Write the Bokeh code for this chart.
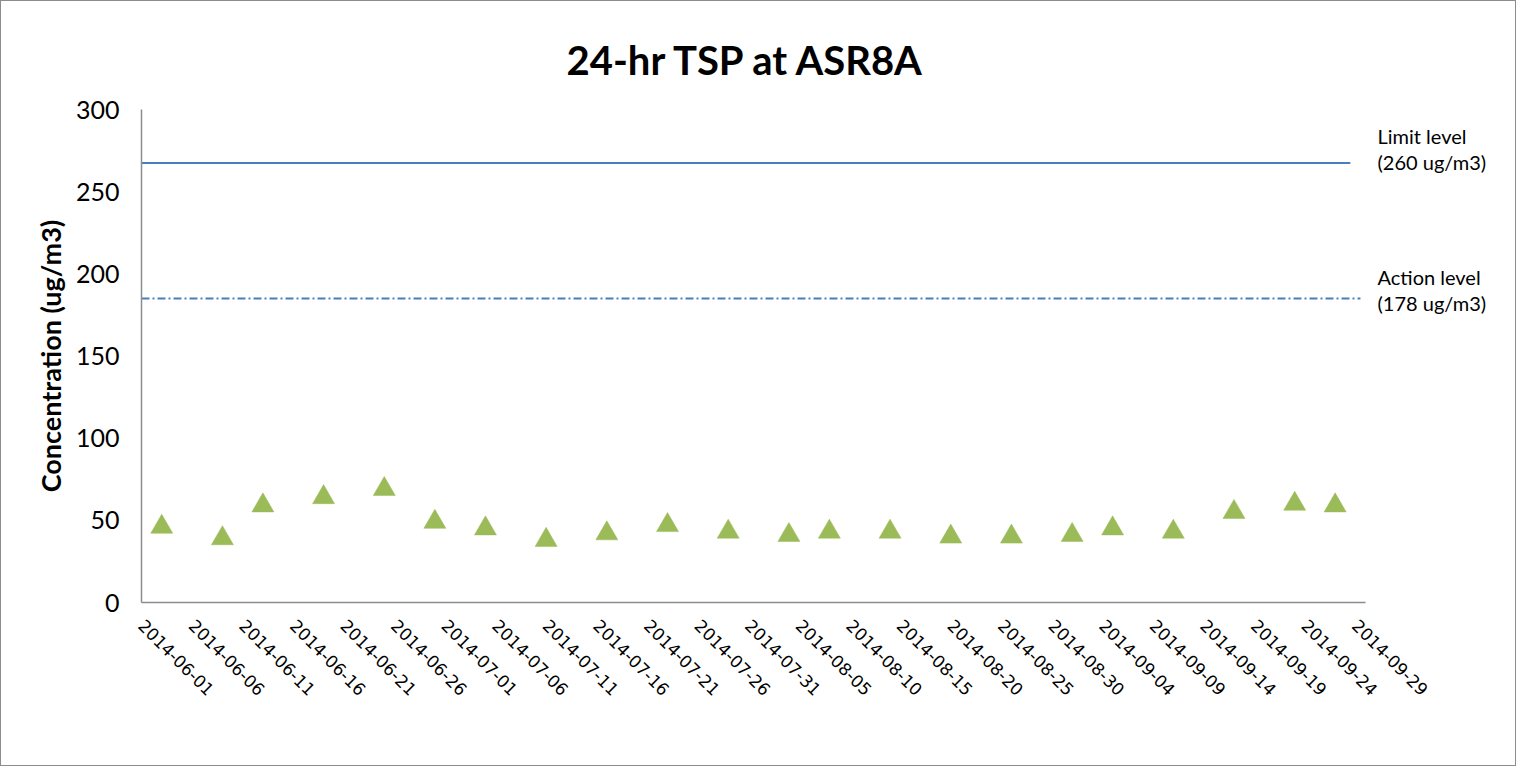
import math
import pandas as pd
from bokeh.plotting import figure
from bokeh.models import FixedTicker, DatetimeTickFormatter, Range1d, LinearAxis
from bokeh.embed import file_html
from bokeh.resources import INLINE

# ---- data ----
dates = ["2014-06-03", "2014-06-09", "2014-06-13", "2014-06-19", "2014-06-25", "2014-06-30",
         "2014-07-05", "2014-07-11", "2014-07-17", "2014-07-23", "2014-07-29", "2014-08-04",
         "2014-08-08", "2014-08-14", "2014-08-20", "2014-08-26", "2014-09-01", "2014-09-05",
         "2014-09-11", "2014-09-17", "2014-09-23", "2014-09-27"]
tsp = [46, 39, 59, 64, 69, 49, 45, 38, 42, 47, 43, 41, 43, 43, 40, 40, 41, 45, 43, 55, 60, 59]

limit_dates = ["2014-06-01 00:00", "2014-09-28 12:00"]
limit_values = [267.5, 267.5]
action_dates = ["2014-06-01 00:00", "2014-09-29 12:00"]
action_values = [185, 185]

tick_dates = list(pd.date_range("2014-06-01", "2014-09-29", freq="5D"))
y_ticks = [0, 50, 100, 150, 200, 250, 300]

title_text = "24-hr TSP at ASR8A"
y_label = "Concentration (ug/m3)"
level_label_pos = [276, 190]
level_label_text = ["Limit level\n(260 ug/m3)", "Action level\n(178  ug/m3)"]

# ---- figure ----
x = pd.to_datetime(dates, format="%Y-%m-%d")
x_start = pd.Timestamp("2014-06-01")
x_end = pd.Timestamp("2014-09-30")

p = figure(width=1516, height=766, x_axis_type="datetime",
           x_range=Range1d(x_start, x_end), y_range=Range1d(0, 300),
           output_backend="svg", toolbar_location=None,
           min_border_left=140, min_border_right=152, min_border_top=108, min_border_bottom=165)
p.styles = {"border": "1.5px solid #8c8c8c"}

p.title.text = title_text
p.title.align = "left"
p.title.vertical_align = "top"
p.title.text_font = "Lato"
p.title.text_font_style = "bold"
p.title.text_font_size = "40px"
p.title.text_color = "black"
p.title.standoff = 47
p.title.offset = 425

p.outline_line_color = None
p.grid.grid_line_color = None
p.background_fill_color = "white"
p.border_fill_color = "white"

# right-hand annotation axis (texts for the two levels)
rax = LinearAxis(ticker=FixedTicker(ticks=level_label_pos),
                 major_label_overrides={v: t for v, t in zip(level_label_pos, level_label_text)})
rax.axis_line_color = None
rax.major_tick_line_color = None
rax.minor_tick_line_color = None
rax.major_tick_in = 0
rax.major_tick_out = 0
rax.major_label_standoff = 12
rax.major_label_text_font = "Lato"
rax.major_label_text_font_size = "20px"
rax.major_label_text_color = "black"
rax.major_label_text_line_height = 1.1
p.add_layout(rax, "right")

# axes
for ax in (p.xaxis[0], p.yaxis[0]):
    ax.axis_line_color = "#8c8c8c"
    ax.axis_line_width = 1.5
    ax.major_tick_line_color = None
    ax.minor_tick_line_color = None
    ax.major_tick_in = 0
    ax.major_tick_out = 0
    ax.major_label_text_color = "black"

tick_ms = [t.timestamp() * 1000 for t in tick_dates]
p.xaxis.ticker = FixedTicker(ticks=tick_ms)
fmt = "%Y-%m-%d"
p.xaxis.formatter = DatetimeTickFormatter(days=fmt, months=fmt, years=fmt, hours=fmt,
                                          hourmin=fmt, minutes=fmt, minsec=fmt, seconds=fmt,
                                          milliseconds=fmt, microseconds=fmt, context=None)
p.xaxis.major_label_orientation = -math.pi / 4
p.xaxis.major_label_text_font = "DejaVu Sans"
p.xaxis.major_label_text_font_size = "17px"
p.xaxis.major_label_standoff = 20

yax = p.yaxis[0]
yax.ticker = FixedTicker(ticks=y_ticks)
yax.major_label_text_font = "Lato"
yax.major_label_text_font_size = "25px"
yax.major_label_standoff = 22
yax.axis_label = y_label
yax.axis_label_text_font = "Lato"
yax.axis_label_text_font_style = "bold"
yax.axis_label_text_font_size = "27px"
yax.axis_label_text_color = "black"
yax.axis_label_standoff = 6

# lines
p.line(pd.to_datetime(limit_dates, format="%Y-%m-%d %H:%M"), limit_values,
       line_color="#4a7ebb", line_width=2)
p.line(pd.to_datetime(action_dates, format="%Y-%m-%d %H:%M"), action_values,
       line_color="#4a7ebb", line_width=2, line_dash="8 3 2 3")

# markers
p.scatter(x, tsp, marker="triangle", size=22, fill_color="#9bbb59", line_color="#9bbb59",
          line_width=0.5)

open("out.html", "w").write(file_html(p, INLINE))
